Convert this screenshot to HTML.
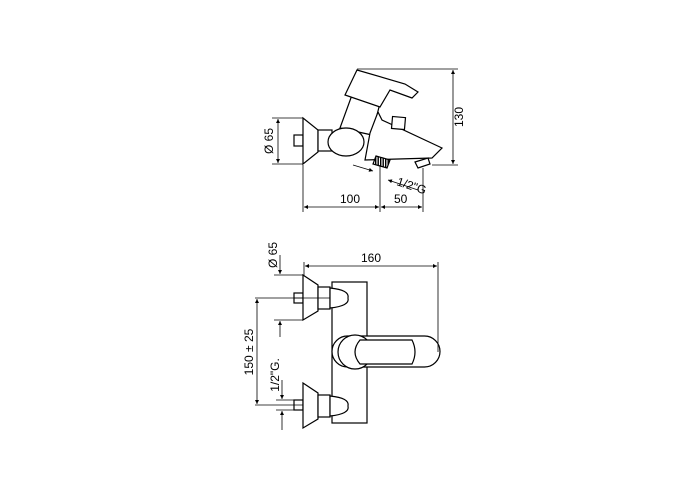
<!DOCTYPE html>
<html><head><style>
html,body{margin:0;padding:0;background:#fff;}
svg{display:block;}
text{font-family:"Liberation Sans",Arial,sans-serif;font-size:12px;fill:#000;}
</style></head><body>
<svg width="700" height="500" viewBox="0 0 700 500" xmlns="http://www.w3.org/2000/svg">
<defs>
<marker id="a" viewBox="0 0 10 10" refX="10" refY="5" markerWidth="7" markerHeight="5" orient="auto-start-reverse"><path d="M0,0L10,5L0,10z" fill="#000"/></marker>
<pattern id="h" width="2.5" height="2.5" patternUnits="userSpaceOnUse"><rect width="2.5" height="2.5" fill="#fff"/><rect width="1.4" height="2.5" fill="#000"/></pattern>
</defs>
<g fill="#fff" stroke="#000" stroke-width="1.2">
<rect x="294" y="135" width="9" height="11"/>
<path d="M303,118 L318,130 L318,152 L303,164 Z"/>
<rect x="318" y="130" width="14" height="21"/>
<path d="M340,128 L352,95 L380,103 L372,135 Z"/>
<path d="M345,95 L357,70 L405,84 L418,92 L412,98 L390,90 L380,107 Z"/>
<path d="M370,133 L378,112 L382,120 L395,126 L442,148 L432,158 L365,160 Z"/>
<ellipse cx="346" cy="142" rx="18" ry="14"/>
<rect x="392" y="117" width="13" height="12" transform="rotate(5 398 123)"/>
<path d="M415,162 L428,158 L430,164 L418,168 Z"/>
<path d="M376,156 L390,160 L387,168 L373,164 Z" fill="url(#h)"/>
<rect x="332" y="282" width="35" height="141"/>
<rect x="332" y="336" width="108" height="31" rx="15.5"/>
<circle cx="355" cy="352" r="17"/>
<path d="M360,340 L412,340 Q418,352 412,364 L360,364 Q350,352 360,340 Z"/>
<rect x="294" y="293" width="9" height="10"/>
<path d="M303,275 L318,285 L318,311 L303,320 Z"/>
<rect x="318" y="287" width="12" height="22"/>
<path d="M330,288 Q350,290 348,298 Q350,306 330,308 Z"/>
<rect x="294" y="400" width="9" height="10"/>
<path d="M303,383 L318,393 L318,419 L303,428 Z"/>
<rect x="318" y="395" width="12" height="22"/>
<path d="M330,396 Q350,398 348,406 Q350,414 330,416 Z"/>
</g>
<g stroke="#000" stroke-width="0.8" fill="none">
<line x1="357" y1="69" x2="458" y2="69"/>
<line x1="432" y1="165" x2="458" y2="165"/>
<line x1="453" y1="70" x2="453" y2="164" marker-start="url(#a)" marker-end="url(#a)"/>
<line x1="272" y1="118" x2="303" y2="118"/>
<line x1="272" y1="164" x2="303" y2="164"/>
<line x1="278" y1="119" x2="278" y2="163" marker-start="url(#a)" marker-end="url(#a)"/>
<line x1="303" y1="165" x2="303" y2="212"/>
<line x1="380" y1="165" x2="380" y2="212"/>
<line x1="423" y1="168" x2="423" y2="212"/>
<line x1="304" y1="207" x2="379" y2="207" marker-start="url(#a)" marker-end="url(#a)"/>
<line x1="381" y1="207" x2="422" y2="207" marker-start="url(#a)" marker-end="url(#a)"/>
<line x1="353" y1="165" x2="373" y2="171" marker-end="url(#a)"/>
<line x1="418" y1="190" x2="388" y2="180" marker-end="url(#a)"/>
<line x1="304" y1="262" x2="304" y2="276"/>
<line x1="438" y1="262" x2="438" y2="352"/>
<line x1="305" y1="266" x2="437" y2="266" marker-start="url(#a)" marker-end="url(#a)"/>
<line x1="280" y1="255" x2="280" y2="274" marker-end="url(#a)"/>
<line x1="274" y1="275" x2="303" y2="275"/>
<line x1="274" y1="320" x2="303" y2="320"/>
<line x1="280" y1="321" x2="280" y2="337" marker-start="url(#a)"/>
<line x1="255" y1="298" x2="303" y2="298"/>
<line x1="255" y1="405" x2="303" y2="405"/>
<line x1="257" y1="299" x2="257" y2="404" marker-start="url(#a)" marker-end="url(#a)"/>
<line x1="276" y1="400" x2="294" y2="400"/>
<line x1="276" y1="410" x2="294" y2="410"/>
<line x1="282" y1="380" x2="282" y2="399" marker-end="url(#a)"/>
<line x1="282" y1="411" x2="282" y2="430" marker-start="url(#a)"/>
<line x1="294" y1="298" x2="330" y2="298"/>
</g>
<text x="340" y="203">100</text>
<text x="394" y="203">50</text>
<text transform="translate(463,117) rotate(-90)" text-anchor="middle">130</text>
<text transform="translate(273,141) rotate(-90)" text-anchor="middle">Ø 65</text>
<text transform="translate(396,185) rotate(18)">1/2"G</text>
<text x="361" y="262">160</text>
<text transform="translate(277,255) rotate(-90)" text-anchor="middle">Ø 65</text>
<text transform="translate(253,352) rotate(-90)" text-anchor="middle">150 ± 25</text>
<text transform="translate(279,375) rotate(-90)" text-anchor="middle">1/2"G.</text>
</svg>
</body></html>
